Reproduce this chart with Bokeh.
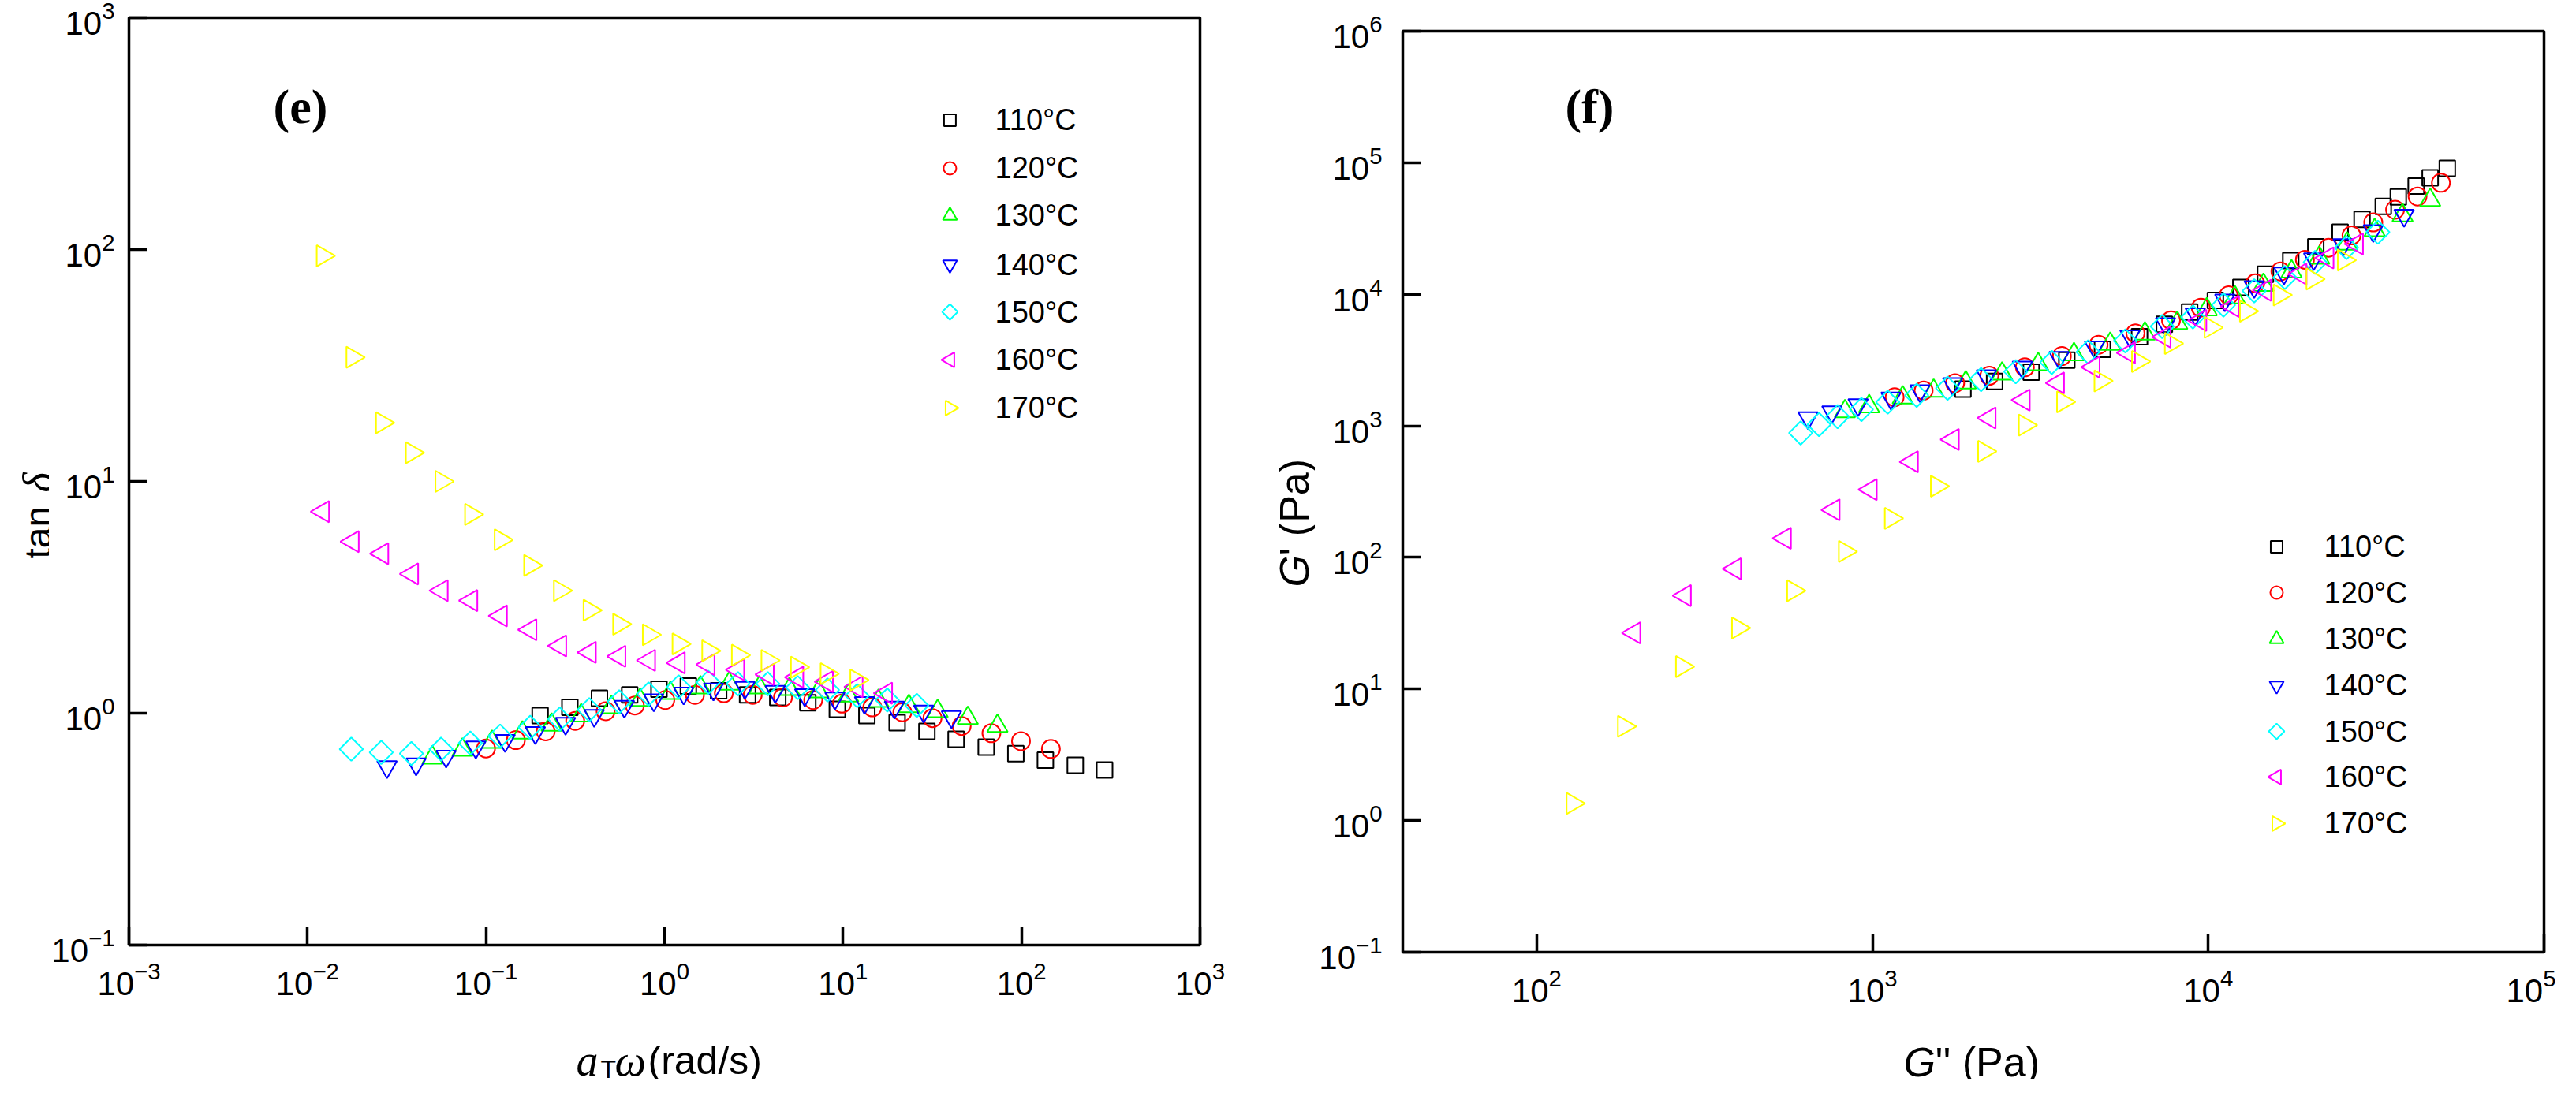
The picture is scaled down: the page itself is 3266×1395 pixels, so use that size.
import math
from bokeh.plotting import figure
from bokeh.models import Range1d, FixedTicker, Label
from bokeh.layouts import row, column
from bokeh.embed import file_html
from bokeh.resources import INLINE

# ---------------- data ----------------
temps = ["110\u00b0C", "120\u00b0C", "130\u00b0C", "140\u00b0C", "150\u00b0C", "160\u00b0C", "170\u00b0C"]

# panel (e): aT*omega (rad/s) vs tan delta
w110 = [0.201, 0.295, 0.432, 0.638, 0.931, 1.36, 2.01, 2.92, 4.31, 6.35, 9.29, 13.6, 20.1, 29.5, 43.0, 63.4, 92.9, 136, 200, 292]
t110 = [0.977, 1.06, 1.16, 1.20, 1.27, 1.31, 1.25, 1.20, 1.17, 1.11, 1.04, 0.977, 0.910, 0.835, 0.773, 0.714, 0.670, 0.627, 0.596, 0.569]
w120 = [0.100, 0.147, 0.216, 0.316, 0.468, 0.682, 1.01, 1.48, 2.15, 3.12, 4.61, 6.81, 9.87, 14.6, 21.5, 31.7, 46.2, 67.8, 99.3, 146]
t120 = [0.705, 0.766, 0.835, 0.927, 1.02, 1.08, 1.14, 1.20, 1.22, 1.20, 1.17, 1.14, 1.10, 1.06, 1.01, 0.953, 0.881, 0.820, 0.758, 0.701]
w130 = [0.0501, 0.0738, 0.108, 0.160, 0.233, 0.341, 0.504, 0.730, 1.08, 1.59, 2.30, 3.40, 5.01, 7.28, 10.7, 15.8, 23.4, 33.9, 50.0, 73.3]
t130 = [0.643, 0.695, 0.751, 0.824, 0.891, 0.977, 1.06, 1.14, 1.22, 1.29, 1.34, 1.29, 1.27, 1.24, 1.19, 1.13, 1.07, 1.02, 0.953, 0.881]
w140 = [0.0279, 0.0406, 0.0598, 0.0877, 0.128, 0.189, 0.279, 0.404, 0.596, 0.871, 1.28, 1.88, 2.82, 4.17, 6.10, 9.01, 13.2, 19.4, 28.3, 40.5]
t140 = [0.587, 0.603, 0.652, 0.714, 0.762, 0.824, 0.903, 0.977, 1.07, 1.14, 1.22, 1.27, 1.29, 1.24, 1.20, 1.16, 1.11, 1.06, 1.02, 0.965]
w150 = [0.0176, 0.0259, 0.0382, 0.0560, 0.0817, 0.120, 0.177, 0.259, 0.379, 0.557, 0.814, 1.20, 1.76, 2.58, 3.79, 5.57, 8.18, 12.0, 17.7, 25.9]
t150 = [0.70, 0.678, 0.67, 0.70, 0.743, 0.797, 0.869, 0.944, 1.035, 1.12, 1.21, 1.30, 1.36, 1.34, 1.34, 1.29, 1.26, 1.19, 1.14, 1.08]
w160 = [0.0122, 0.0179, 0.0262, 0.0385, 0.0564, 0.0826, 0.121, 0.177, 0.260, 0.381, 0.558, 0.818, 1.20, 1.76, 2.58, 3.78, 5.53, 8.11, 11.9, 17.4]
t160 = [7.41, 5.50, 4.88, 3.99, 3.38, 3.06, 2.63, 2.29, 1.95, 1.83, 1.76, 1.69, 1.65, 1.62, 1.54, 1.47, 1.43, 1.37, 1.30, 1.22]
w170 = [0.0122, 0.0179, 0.0262, 0.0385, 0.0564, 0.0826, 0.121, 0.177, 0.260, 0.381, 0.558, 0.818, 1.20, 1.76, 2.58, 3.78, 5.53, 8.11, 11.9]
t170 = [94, 34.3, 17.9, 13.3, 10.0, 7.2, 5.6, 4.34, 3.38, 2.78, 2.42, 2.18, 1.99, 1.86, 1.78, 1.69, 1.58, 1.48, 1.39]

# panel (f): G'' (Pa) vs G' (Pa)
gl110 = [1860, 2310, 2970, 3790, 4840, 6240, 7400, 8800, 10500, 12500, 14800, 17600, 20900, 24700, 28700, 33200, 36800, 41600, 45800, 51500]
gs110 = [1904, 2179, 2560, 3158, 3811, 4763, 5920, 7333, 8974, 11260, 14230, 18010, 22970, 29580, 37130, 46500, 54930, 66350, 76850, 90510]
gl120 = [1164, 1420, 1762, 2228, 2843, 3664, 4713, 6067, 7745, 9500, 11500, 13800, 16400, 19400, 22800, 26700, 31000, 36000, 42000, 49300]
gs120 = [1651, 1854, 2110, 2403, 2787, 3393, 4134, 5056, 6348, 7917, 9829, 12105, 14910, 18300, 22570, 28020, 35190, 43900, 55410, 70330]
gl130 = [828, 977, 1230, 1521, 1896, 2432, 3114, 3981, 5105, 6475, 8084, 9900, 12000, 14600, 17700, 21400, 25900, 31300, 37900, 45800]
gs130 = [1288, 1406, 1638, 1846, 2128, 2489, 2938, 3492, 4184, 5019, 6033, 7674, 9449, 11770, 14870, 18940, 24210, 30690, 39770, 51990]
gl140 = [643, 757, 906, 1135, 1384, 1733, 2184, 2794, 3594, 4586, 5845, 7460, 9150, 11200, 13700, 16800, 20600, 25200, 31000, 38300]
gs140 = [1148, 1277, 1445, 1622, 1846, 2089, 2399, 2793, 3306, 3970, 4817, 5957, 7093, 9032, 11420, 14480, 18560, 23770, 30390, 39690]
gl150 = [611, 693, 787, 927, 1110, 1354, 1673, 2105, 2670, 3420, 4385, 5665, 7290, 9000, 11100, 13700, 16900, 20800, 25800, 32000]
gs150 = [883, 1023, 1175, 1330, 1513, 1706, 1931, 2248, 2580, 3033, 3643, 4420, 5690, 6716, 8284, 10620, 13410, 17480, 22630, 29630]
gl160 = [195, 276, 389, 548, 765, 987, 1309, 1733, 2230, 2818, 3565, 4550, 5800, 7400, 9460, 11840, 14750, 18800, 22630, 27700]
gs160 = [26.7, 51.3, 81.8, 140, 230, 328, 533, 787, 1148, 1570, 2118, 2793, 3589, 4733, 6330, 8090, 10740, 14260, 18900, 24140]
gl170 = [128, 182, 271, 398, 581, 828, 1135, 1556, 2152, 2845, 3697, 4779, 6180, 7745, 10170, 12960, 16330, 20450, 25350]
gs170 = [1.35, 5.2, 14.8, 29.1, 55.8, 111, 198, 348, 640, 1014, 1520, 2193, 3083, 4227, 5598, 7430, 9860, 13070, 18200]

e_x_ticks = [1e-3, 1e-2, 1e-1, 1e0, 1e1, 1e2, 1e3]
e_y_ticks = [1e-1, 1e0, 1e1, 1e2, 1e3]
f_x_ticks = [1e2, 1e3, 1e4, 1e5]
f_y_ticks = [1e-1, 1e0, 1e1, 1e2, 1e3, 1e4, 1e5, 1e6]

# ---------------- styles ----------------
colors = ["#000000", "#FF0000", "#00FF00", "#0000FF", "#00FFFF", "#FF00FF", "#FFFF00"]
markers = ["square", "circle", "triangle", "inverted_triangle", "square", "triangle", "triangle"]
angles = [0, 0, 0, 0, math.pi / 4, math.pi / 2, -math.pi / 2]
sizes = [20, 23, 26, 25, 21, 27, 27]
leg_sizes = [15, 16, 18, 18, 14, 19, 19]

SANS = "Liberation Sans"
SERIF = "Liberation Serif"
H = 1368


def style(p, standoff_y):
    p.outline_line_color = "black"
    p.outline_line_width = 3.5
    p.background_fill_color = "white"
    p.border_fill_color = "white"
    p.xgrid.visible = False
    p.ygrid.visible = False
    for ax in (p.xaxis[0], p.yaxis[0]):
        ax.axis_line_color = None
        ax.major_tick_in = 23
        ax.major_tick_out = 0
        ax.major_tick_line_width = 3.5
        ax.major_tick_line_color = "black"
        ax.minor_tick_line_color = None
        ax.major_label_text_font = SANS
        ax.major_label_text_font_size = "42px"
        ax.major_label_text_color = "black"
        ax.axis_label_standoff = 0
    p.xaxis[0].major_label_standoff = 20
    p.yaxis[0].major_label_standoff = standoff_y


def lab(p, x, y, text, size, font=SANS, style_="normal", angle=0.0, baseline="alphabetic"):
    p.add_layout(Label(x=x, y=y, x_units="screen", y_units="screen", text=text,
                       text_font=font, text_font_size=size, text_font_style=style_,
                       text_color="black", text_align="left", text_baseline=baseline,
                       angle=angle))


def blank(width, height):
    f = figure(width=width, height=height, x_range=Range1d(0, 1), y_range=Range1d(0, 1),
               min_border=0, min_border_left=0, min_border_right=0,
               min_border_top=0, min_border_bottom=0,
               x_axis_location=None, y_axis_location=None, title_location=None,
               output_backend="svg", toolbar_location=None)
    f.outline_line_color = None
    f.background_fill_color = "white"
    f.border_fill_color = "white"
    f.xgrid.visible = False
    f.ygrid.visible = False
    return f


def add_legend(p, xlo, xhi, ylo, yhi, fx, fy_rows, text_sx, frame_h):
    # legend drawn inside the frame: markers placed at frame fractions, labels in screen px
    for i in range(7):
        lx = 10 ** (math.log10(xlo) + fx * (math.log10(xhi) - math.log10(xlo)))
        ly = 10 ** (math.log10(yhi) - fy_rows[i] * (math.log10(yhi) - math.log10(ylo)))
        p.scatter([lx], [ly], marker=markers[i], size=leg_sizes[i], angle=angles[i],
                  line_color=colors[i], fill_color=None, line_width=2)
        lab(p, text_sx, frame_h * (1 - fy_rows[i]), temps[i], "38px", SANS, baseline="middle")


# ---------------- panel (e) ----------------
p1 = figure(x_axis_type="log", y_axis_type="log",
            x_range=Range1d(1e-3, 1e3), y_range=Range1d(1e-1, 1e3),
            width=1500, height=1283, title_location=None,
            min_border_left=97, min_border_right=41, min_border_top=22, min_border_bottom=85,
            output_backend="svg", toolbar_location=None)
p1.xaxis[0].ticker = FixedTicker(ticks=e_x_ticks)
p1.yaxis[0].ticker = FixedTicker(ticks=e_y_ticks)
style(p1, 18)

e_series = [(w110, t110), (w120, t120), (w130, t130), (w140, t140), (w150, t150), (w160, t160), (w170, t170)]
for i, (xs, ys) in enumerate(e_series):
    p1.scatter(xs, ys, marker=markers[i], size=sizes[i], angle=angles[i],
               line_color=colors[i], fill_color=None, line_width=2)

add_legend(p1, 1e-3, 1e3, 1e-1, 1e3, 0.7665,
           [0.1105, 0.1624, 0.2134, 0.2662, 0.3172, 0.3690, 0.4209], 1098, 1176)
lab(p1, 183, 1064, "(e)", "62px", SERIF, "bold")

# ---------------- panel (f) ----------------
p2 = figure(x_axis_type="log", y_axis_type="log",
            x_range=Range1d(39.9, 1e5), y_range=Range1d(1e-1, 1e6),
            width=1573, height=1292, title_location=None,
            min_border_left=111, min_border_right=15, min_border_top=39, min_border_bottom=85,
            output_backend="svg", toolbar_location=None)
p2.xaxis[0].ticker = FixedTicker(ticks=f_x_ticks)
p2.yaxis[0].ticker = FixedTicker(ticks=f_y_ticks)
style(p2, 26)

f_series = [(gl110, gs110), (gl120, gs120), (gl130, gs130), (gl140, gs140), (gl150, gs150), (gl160, gs160), (gl170, gs170)]
for i, (xs, ys) in enumerate(f_series):
    p2.scatter(xs, ys, marker=markers[i], size=sizes[i], angle=angles[i],
               line_color=colors[i], fill_color=None, line_width=2)

add_legend(p2, 39.9, 1e5, 1e-1, 1e6, 0.7657,
           [0.5599, 0.6096, 0.6601, 0.7106, 0.7603, 0.8099, 0.8604], 1168, 1168)
lab(p2, 206, 1073, "(f)", "62px", SERIF, "bold")

# ---------------- axis-title strips ----------------
strip_e = blank(62, H)
lab(strip_e, 48, 660, "tan", "48px", SANS, "normal", math.pi / 2)
lab(strip_e, 48, 744, "\u03b4", "54px", SERIF, "italic", math.pi / 2)

# bottom strips share the frame alignment of the plot above them (frame-relative x)
bot_e = blank(1500, H - 1283)
lab(bot_e, 567, 24, "a", "56px", SERIF, "italic")
lab(bot_e, 598, 13, "T", "32px", SANS)
lab(bot_e, 616, 24, "\u03c9", "56px", SERIF, "italic")
lab(bot_e, 658, 24, "(rad/s)", "50px", SANS)

strip_f = blank(105, H)
lab(strip_f, 78, 624, "G", "52px", SANS, "italic", math.pi / 2)
lab(strip_f, 78, 664, "' (Pa)", "52px", SANS, "normal", math.pi / 2)

bot_f = blank(1573, H - 1292)
lab(bot_f, 635, 22, "G", "52px", SANS, "italic")
lab(bot_f, 675, 22, "'' (Pa)", "52px", SANS)

layout = row(strip_e, column(p1, bot_e), strip_f, column(p2, bot_f))
open("out.html", "w").write(file_html(layout, INLINE))
